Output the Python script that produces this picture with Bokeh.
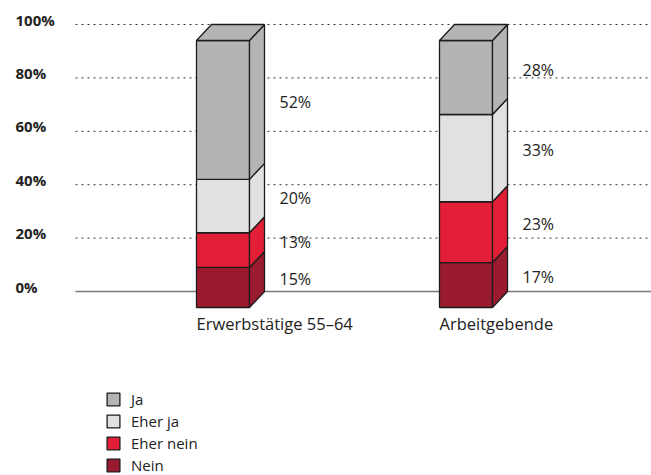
import numpy as np
from bokeh.plotting import figure
from bokeh.models import Range1d, Legend, LegendItem
from bokeh.core.properties import value
from bokeh.embed import file_html
from bokeh.resources import INLINE

# ---- data ----
categories = ["Erwerbstätige 55–64", "Arbeitgebende"]
series = ["Nein", "Eher nein", "Eher ja", "Ja"]
nein = [15, 17]
eher_nein = [13, 23]
eher_ja = [20, 33]
ja = [52, 28]
series_values = [nein, eher_nein, eher_ja, ja]
colors = ["#9A1A2F", "#E21F37", "#E1E1E1", "#B4B4B4"]
y_ticks = [0, 20, 40, 60, 80, 100]
y_tick_labels = ["0%", "20%", "40%", "60%", "80%", "100%"]

# ---- geometry (screen px -> data units) ----
W, H = 651, 475
PX_PER_PCT = 2.67
PX_PER_CAT = 243.0
X0_PX = 222.5      # px of first bar centre
Y0_PX = 291.0      # px of 0 %
HALF_W = 26.5 / PX_PER_CAT
DX = 15 / PX_PER_CAT
DY = 16 / PX_PER_PCT

p = figure(width=W, height=H, output_backend="svg", toolbar_location=None,
           x_range=Range1d(-X0_PX / PX_PER_CAT, (W - X0_PX) / PX_PER_CAT),
           y_range=Range1d(-(H - Y0_PX) / PX_PER_PCT, Y0_PX / PX_PER_PCT),
           x_axis_location=None, y_axis_location=None, min_border=0)
p.grid.visible = False
p.outline_line_color = None
p.background_fill_color = "white"

FONT_NAME = "Open Sans"
FONT = value(FONT_NAME)
grid_x0 = (75 - X0_PX) / PX_PER_CAT
grid_x1 = (W - X0_PX) / PX_PER_CAT

# grid lines
p.segment(x0=[grid_x0] * 5, x1=[grid_x1] * 5, y0=y_ticks[1:], y1=y_ticks[1:],
          line_color="#333333", line_width=1, line_dash="2 4")
p.segment(x0=[grid_x0], x1=[grid_x1], y0=[0], y1=[0], line_color="#7a7a7a", line_width=1.6)

# y tick labels
p.text(x=[(15 - X0_PX) / PX_PER_CAT] * len(y_ticks), y=y_ticks, text=y_tick_labels,
       text_font=FONT, text_font_style="bold", text_font_size="15px",
       text_color="#222222", text_align="left", text_baseline="alphabetic", y_offset=-5)

# stacked 3D bars
n = len(categories)
xs = np.arange(n, dtype=float)
totals = np.sum(np.array(series_values, dtype=float), axis=0)
cum = np.zeros(n)
renderers = {}
lab_x, lab_y, lab_t = [], [], []
LINE = "#1c1c1c"
for s, vals, col in zip(series, series_values, colors):
    v = np.array(vals, dtype=float) / totals * 100
    lo, hi = cum.copy(), cum + v
    r = p.quad(left=xs - HALF_W, right=xs + HALF_W, bottom=lo - DY, top=hi - DY,
               fill_color=col, line_color=LINE, line_width=1.3)
    renderers[s] = r
    side_x = [[x + HALF_W, x + HALF_W + DX, x + HALF_W + DX, x + HALF_W] for x in xs]
    side_y = [[a - DY, a, b, b - DY] for a, b in zip(lo, hi)]
    p.patches(xs=side_x, ys=side_y, fill_color=col, line_color=LINE, line_width=1.3)
    for i in range(n):
        lab_x.append(xs[i] + HALF_W + 30 / PX_PER_CAT)
        lab_y.append((lo[i] + hi[i]) / 2 - DY / 2)
        lab_t.append(f"{vals[i]}%")
    cum = hi

# top faces
top_x = [[x - HALF_W, x - HALF_W + DX, x + HALF_W + DX, x + HALF_W] for x in xs]
top_y = [[t - DY, t, t, t - DY] for t in cum]
p.patches(xs=top_x, ys=top_y, fill_color=colors[-1], line_color=LINE, line_width=1.3)

# value labels
p.text(x=lab_x, y=lab_y, text=lab_t, text_font=FONT, text_font_size="16px",
       text_color="#222222", text_align="left", text_baseline="middle")

# category labels
p.text(x=list(xs - HALF_W), y=[-DY - 16 / PX_PER_PCT] * n, text=categories,
       text_font=FONT, text_font_size="16.5px", text_color="#222222",
       text_align="left", text_baseline="middle")

# legend
items = [LegendItem(label=s, renderers=[renderers[s]]) for s in reversed(series)]
legend = Legend(items=items, location=(105, 0), orientation="vertical",
                glyph_width=16, glyph_height=16, label_height=16, spacing=2,
                padding=0, margin=0, border_line_color=None, background_fill_alpha=0,
                label_standoff=10, label_text_font=FONT_NAME, label_text_font_size="15px",
                label_text_color="#222222", label_text_baseline="middle")
p.add_layout(legend)

open("out.html", "w").write(file_html(p, INLINE))
